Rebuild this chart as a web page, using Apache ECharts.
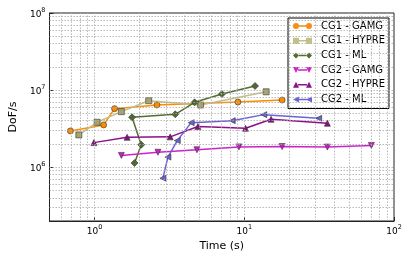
<!DOCTYPE html>
<html><head><meta charset="utf-8">
<script src="https://cdn.jsdelivr.net/npm/echarts@6/dist/echarts.min.js"></script>
<style>html,body{margin:0;padding:0;background:#fff}#c{width:415px;height:260px}</style>
</head><body><div id="c"></div>
<script>
// ---- data ----
const seriesNames = ['CG1 - GAMG','CG1 - HYPRE','CG1 - ML','CG2 - GAMG','CG2 - HYPRE','CG2 - ML'];
const cg1GamgTime  = [0.69, 1.15, 1.36, 2.61, 9.07, 17.9];
const cg1GamgDofs  = [2.95e6, 3.53e6, 5.74e6, 6.4e6, 7.0e6, 7.43e6];
const cg1HypreTime = [0.785, 1.04, 1.51, 2.30, 5.11, 14.0];
const cg1HypreDofs = [2.62e6, 3.82e6, 5.25e6, 7.28e6, 6.4e6, 9.5e6];
const cg1MlTime    = [1.85, 2.05, 1.78, 3.46, 4.66, 7.09, 11.8];
const cg1MlDofs    = [1.13e6, 1.95e6, 4.43e6, 4.85e6, 6.93e6, 8.88e6, 1.13e7];
const cg2GamgTime  = [1.51, 2.65, 4.83, 9.21, 17.9, 35.9, 70.6];
const cg2GamgDofs  = [1.42e6, 1.56e6, 1.68e6, 1.83e6, 1.85e6, 1.82e6, 1.91e6];
const cg2HypreTime = [0.99, 1.65, 3.20, 4.90, 10.2, 15.1, 35.9];
const cg2HypreDofs = [2.08e6, 2.44e6, 2.47e6, 3.36e6, 3.19e6, 4.18e6, 3.71e6];
const cg2MlTime    = [2.86, 3.09, 3.57, 4.42, 8.31, 13.5, 31.4];
const cg2MlDofs    = [7.2e5, 1.35e6, 2.21e6, 3.78e6, 4.01e6, 4.80e6, 4.30e6];
// axis ranges and grid ticks
const xRange = [0.5, 100];
const yRange = [2e5, 1e8];
const xGridTicks = [0.6,0.7,0.8,0.9,1,2,3,4,5,6,7,8,9,10,20,30,40,50,60,70,80,90];
const yGridTicks = [3e5,4e5,5e5,6e5,7e5,8e5,9e5,1e6,2e6,3e6,4e6,5e6,6e6,7e6,8e6,9e6,1e7,2e7,3e7,4e7,5e7,6e7,7e7,8e7,9e7];

// ---- styling ----
const lineColors   = ['#ff8c00','#c4bf84','#556b2f','#cc22cc','#8b108b','#6a62d6'];
const markerColors = ['#ff8c00','#a8a36c','#4f6a30','#c81ec8','#861086','#6a62d6'];
const symbols = ['circle','rect','diamond','triangle','triangle','triangle'];
const rotations = [0,0,0,180,0,90];
const symSizes = [6,6,7,6,6,6];
const legendIcons = [
  'path://M6,2.25L13,2.25L13,3.75L6,3.75Z M0,3A3,3 0 1,1 6,3A3,3 0 1,1 0,3Z M13,3A3,3 0 1,1 19,3A3,3 0 1,1 13,3Z',
  'path://M6,2.25L13,2.25L13,3.75L6,3.75Z M0,0L6,0L6,6L0,6Z M13,0L19,0L19,6L13,6Z',
  'path://M6,2.25L13,2.25L13,3.75L6,3.75Z M3,0L6,3L3,6L0,3Z M16,0L19,3L16,6L13,3Z',
  'path://M5,2.25L14,2.25L14,3.75L5,3.75Z M0,0L6,0L3,6Z M13,0L19,0L16,6Z',
  'path://M5,2.25L14,2.25L14,3.75L5,3.75Z M3,0L6,6L0,6Z M16,0L19,6L13,6Z',
  'path://M5,2.25L14,2.25L14,3.75L5,3.75Z M0,3L6,0L6,6Z M13,3L19,0L19,6Z'
];

const times = [cg1GamgTime,cg1HypreTime,cg1MlTime,cg2GamgTime,cg2HypreTime,cg2MlTime];
const dofs  = [cg1GamgDofs,cg1HypreDofs,cg1MlDofs,cg2GamgDofs,cg2HypreDofs,cg2MlDofs];

function powLabel(v){
  const l = Math.log10(v), e = Math.round(l);
  if (Math.abs(l - e) > 1e-6) return '';
  return '{b|10}{s|' + e + '}';
}
const rich = {
  b: {fontFamily:'DejaVu Sans', fontSize:9, color:'#000', lineHeight:12, verticalAlign:'bottom'},
  s: {fontFamily:'DejaVu Sans', fontSize:6.5, color:'#000', lineHeight:12, verticalAlign:'bottom', padding:[0,0,5,0]}
};

const gridLineStyle = {color:'#aaaaaa', width:0.8, type:[1.5,1.5]};
const series = [{
  type:'line', data:[], silent:true, z:1,
  markLine:{
    silent:true, symbol:['none','none'], label:{show:false}, animation:false,
    lineStyle:gridLineStyle,
    emphasis:{disabled:true},
    data: xGridTicks.map(v=>({xAxis:v})).concat(yGridTicks.map(v=>({yAxis:v})))
  }
}];
seriesNames.forEach((n,i)=>{
  series.push({
    name:n, type:'line', z:3,
    data: times[i].map((t,j)=>[t, dofs[i][j]]),
    symbol: symbols[i], symbolRotate: rotations[i], symbolSize: symSizes[i],
    showAllSymbol:true,
    lineStyle:{color:lineColors[i], width:1.5},
    itemStyle:{color:markerColors[i], borderColor:'#333', borderWidth:0.6},
    emphasis:{disabled:true},
    animation:false
  });
});

const chart = echarts.init(document.getElementById('c'), null, {renderer:'canvas'});
chart.setOption({
  backgroundColor:'#fff',
  animation:false,
  grid:{left:49, right:21, top:13, bottom:39, show:true, borderColor:'#222', borderWidth:1, backgroundColor:'transparent', containLabel:false},
  legend:{
    orient:'vertical', left:288, top:18,
    backgroundColor:'#fff', borderColor:'#000', borderWidth:1, borderRadius:0,
    padding:[2,4,3,5], itemGap:2.7, itemWidth:19, itemHeight:6,
    textStyle:{fontFamily:'DejaVu Sans', fontSize:10, color:'#000', lineHeight:12, padding:[0,0,0,4]},
    itemStyle:{borderWidth:0},
    data: seriesNames.map((n,i)=>({name:n, icon:legendIcons[i], itemStyle:{color:lineColors[i], borderWidth:0}}))
  },
  xAxis:{
    type:'log', logBase:10, min:xRange[0], max:xRange[1],
    name:'Time (s)', nameLocation:'middle', nameGap:15,
    nameTextStyle:{fontFamily:'DejaVu Sans', fontSize:11, color:'#000'},
    axisLine:{show:true, lineStyle:{color:'#222'}},
    axisTick:{show:true, inside:true, length:4, lineStyle:{color:'#222'}},
    splitLine:{show:false},
    axisLabel:{formatter:powLabel, rich:rich, margin:3, showMinLabel:false}
  },
  yAxis:{
    type:'log', logBase:10, min:yRange[0], max:yRange[1],
    name:'DoF/s', nameLocation:'middle', nameGap:26,
    nameTextStyle:{fontFamily:'DejaVu Sans', fontSize:11, color:'#000'},
    axisLine:{show:true, lineStyle:{color:'#222'}},
    axisTick:{show:true, inside:true, length:4, lineStyle:{color:'#222'}},
    splitLine:{show:false},
    axisLabel:{formatter:powLabel, rich:rich, margin:4, showMinLabel:false}
  },
  series: series
});
</script></body></html>
